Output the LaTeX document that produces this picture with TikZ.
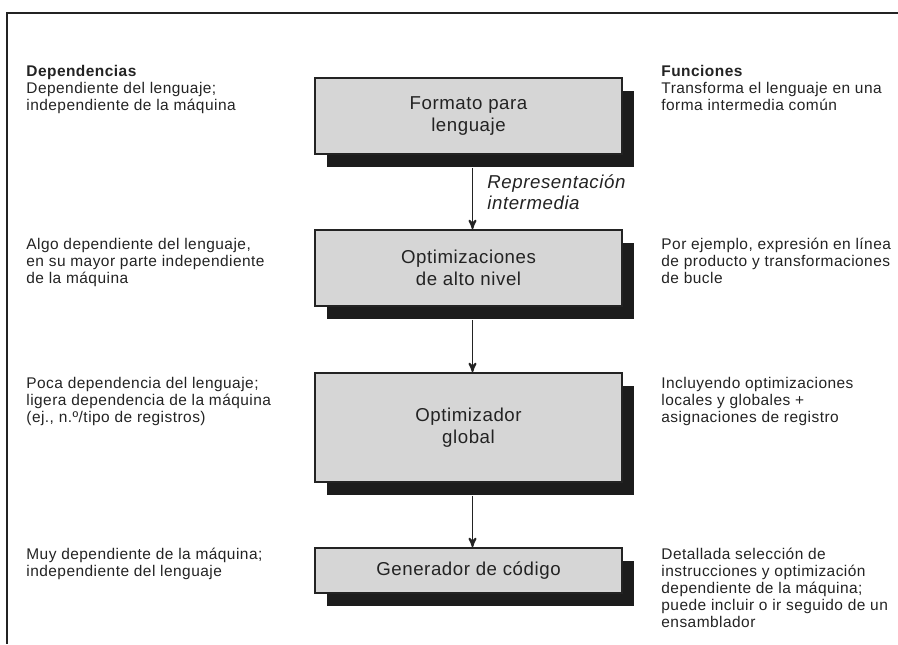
\documentclass[tikz,border=0pt]{standalone}
\usepackage{fontspec}
\setmainfont{Liberation Sans}[LetterSpace=3]
\usepackage{tikz}
\usetikzlibrary{arrows,positioning,shadows}
\definecolor{boxgray}{RGB}{214,214,214}
\definecolor{ink}{RGB}{35,35,35}
\definecolor{shade}{RGB}{28,28,28}

\begin{document}
\begin{tikzpicture}[x=0.75pt, y=-0.75pt, >=stealth', semithick, text=ink]
\tikzstyle{stage}=[draw=ink, fill=boxgray, line width=1.4pt, minimum width=230pt, inner sep=0pt, align=center, font=\fontsize{14}{16.5}\selectfont, drop shadow={shadow xshift=9pt, shadow yshift=-9.75pt, fill=shade, opacity=1}]
\tikzstyle{note}=[anchor=north west, inner sep=0pt, align=left, font=\fontsize{11.6}{12.75}\selectfont]
\tikzstyle{flow}=[->, draw=ink, line width=1.4pt]
\useasboundingbox (0,0) rectangle (898,644);
\draw[line width=2pt, ink] (898,13) -- (7,13) -- (7,644);

% etapas del compilador
\node[stage, minimum height=57pt]    (fmt)  at (468.5,116)   {Formato para\\lenguaje};
\node[stage, minimum height=57pt]    (opt)  at (468.5,268)   {Optimizaciones\\de alto nivel};
\node[stage, minimum height=81.75pt] (glob) at (468.5,427.5) {Optimizador\\global};
\node[stage, minimum height=33.75pt] (gen)  at (468.5,570.5) {Generador de código};

\node[anchor=west, align=left, inner sep=0pt, font=\fontsize{14}{15.5}\selectfont\itshape] (rep) at (487,192) {Representación\\intermedia};

\draw[flow] ([xshift=3pt,yshift=-9.75pt]fmt.south)  -- ([xshift=3pt]opt.north);
\draw[flow] ([xshift=3pt,yshift=-9.75pt]opt.south)  -- ([xshift=3pt]glob.north);
\draw[flow] ([xshift=3pt,yshift=-9.75pt]glob.south) -- ([xshift=3pt]gen.north);

% dependencias
\node[note] (dep1) at (26,65)  {\textbf{Dependencias}\\Dependiente del lenguaje;\\independiente de la máquina};
\node[note] (dep2) at (26,238) {Algo dependiente del lenguaje,\\en su mayor parte independiente\\de la máquina};
\node[note] (dep3) at (26,377) {Poca dependencia del lenguaje;\\ligera dependencia de la máquina\\(ej., n.º/tipo de registros)};
\node[note] (dep4) at (26,548) {Muy dependiente de la máquina;\\independiente del lenguaje};

% funciones
\node[note] (fun1) at (661,65)  {\textbf{Funciones}\\Transforma el lenguaje en una\\forma intermedia común};
\node[note] (fun2) at (661,238) {Por ejemplo, expresión en línea\\de producto y transformaciones\\de bucle};
\node[note] (fun3) at (661,377) {Incluyendo optimizaciones\\locales y globales +\\asignaciones de registro};
\node[note] (fun4) at (661,548) {Detallada selección de\\instrucciones y optimización\\dependiente de la máquina;\\puede incluir o ir seguido de un\\ensamblador};
\end{tikzpicture}
\end{document}
